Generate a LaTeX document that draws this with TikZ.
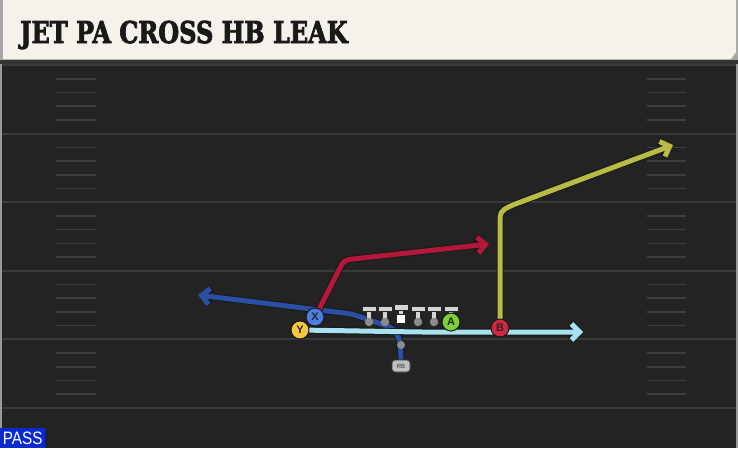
\documentclass[tikz,border=0pt]{standalone}
\usepackage{fontspec}
\setsansfont{Liberation Sans}
\newfontfamily\titlefont[BoldFeatures={FakeBold=3}]{DejaVu Serif}
\usetikzlibrary{arrows.meta, positioning}

\definecolor{fieldbg}{HTML}{232323}
\definecolor{yardline}{HTML}{3A3A3A}
\definecolor{hashline}{HTML}{3E3E3E}
\definecolor{headbg}{HTML}{F5F2EC}
\definecolor{routeblue}{HTML}{2B4FA3}
\definecolor{routered}{HTML}{B5173A}
\definecolor{routecyan}{HTML}{A8E2F0}
\definecolor{routeolive}{HTML}{B8BB48}
\definecolor{xblue}{HTML}{4A7FE0}
\definecolor{yyellow}{HTML}{F5C842}
\definecolor{agreen}{HTML}{7AD13A}
\definecolor{bred}{HTML}{D02840}
\definecolor{passblue}{HTML}{0A2AD0}

\newcommand\playroute[2]{%
  \draw[routeback] #2;
  \draw[route, draw=#1] #2;}

\begin{document}
\begin{tikzpicture}[x=1pt, y=-1pt,
    route/.style={line width=5pt, line join=round, rounded corners=5pt,
      -{Straight Barb[length=8pt, width=16pt]}},
    routeback/.style={route, draw=black!90, line width=7pt},
    player/.style={circle, draw=black!90, line width=1pt, minimum size=18pt,
      inner sep=0pt, font=\sffamily\bfseries\fontsize{11}{11}\selectfont,
      text=black!85},
    rbbox/.style={rounded corners=3pt, fill=black!25, draw=black!80, line width=0.7pt,
      minimum width=18pt, minimum height=12pt, inner sep=0pt,
      font=\sffamily\fontsize{6}{6}\selectfont, text=black!80},
    lineman/.style={fill=black!17, draw=black!85, line width=0.7pt}]

  \useasboundingbox (0,0) rectangle (738,448);
  % field and header
  \fill[fieldbg] (0,0) rectangle (738,448);
  \fill[black!40] (0,60) rectangle (2,448);
  \fill[black!40] (736,60) rectangle (738,448);
  \fill[black!80] (0,58) rectangle (738,64);
  \fill[black!35] (0,0) rectangle (738,60);
  \fill[headbg] (3,0) -- (736,0) -- (736,52) -- (731,59) -- (3,59) -- cycle;
  \node[anchor=base west, inner sep=0pt, xscale=0.8,
    font=\titlefont\bfseries\fontsize{30}{30}\selectfont, text=black!90]
    (title) at (20,43) {JET PA CROSS HB LEAK};

  % yard lines and hash marks
  \foreach \yl in {65,133.6,202.2,270.8,339.4,408}
    \draw[yardline, line width=2pt] (2,\yl) -- (736,\yl);
  \foreach \yl in {65,133.6,202.2,270.8,339.4}
    \foreach \k in {1,...,4} {
      \draw[hashline, line width=1.6pt] (56,\yl+13.72*\k) -- (96,\yl+13.72*\k);
      \draw[hashline, line width=1.6pt] (647,\yl+13.72*\k) -- (686,\yl+13.72*\k);
    }

  % players
  \node[player, fill=yyellow] (Y) at (300,330) {Y};
  \node[player, fill=xblue] (X) at (315,317) {X};
  \node[player, fill=agreen] (A) at (451,322) {A};
  \node[player, fill=bred] (B) at (500,328) {B};
  \node[rbbox] (RB) at (401,366) {RB};

  \coordinate (blueEnd) at (198,295);
  \coordinate (redEnd) at (489,244);
  \coordinate (cyanEnd) at (583,332);
  \coordinate (oliveEnd) at (673,145);

  % routes
  \playroute{routeblue}{(RB.north) -- (400,340) -- (393,328) -- (352,314) -- (blueEnd)}
  \playroute{routered}{(X.center) -- (344,260) -- (redEnd)}
  \playroute{routecyan}{(Y.center) -- (420,332) -- (cyanEnd)}
  \playroute{routeolive}{(B.center) -- (500,212) -- (510,206) -- (oliveEnd)}
  \fill[black!45] (401,345) circle (4pt);

  % line
  \foreach \lx in {369,385,418,434,451} {
    \draw[lineman] (\lx-7,306) rectangle (\lx+7,311.5);
    \draw[lineman] (\lx-2.6,311.5) rectangle (\lx+2.6,320);
    \fill[black!45] (\lx,322) circle (4.2pt);
  }
  \draw[lineman] (394,304.5) rectangle (408,310);
  \draw[lineman] (398.4,310) rectangle (403.6,314);
  \draw[fill=white, draw=black!85, line width=0.7pt] (396.5,314) rectangle (405.5,323);

  % redraw players on top
  \node[player, fill=yyellow] at (Y) {Y};
  \node[player, fill=xblue] at (X) {X};
  \node[player, fill=agreen] at (A) {A};
  \node[player, fill=bred] at (B) {B};
  \node[rbbox] at (RB) {RB};

  % play type tag
  \node[fill=passblue, text=white, anchor=south west, inner sep=0pt,
    minimum width=45pt, minimum height=20pt] (tag) at (0,448)
    {\sffamily\fontsize{18}{18}\selectfont\scalebox{0.85}[1]{PASS}};
\end{tikzpicture}
\end{document}
